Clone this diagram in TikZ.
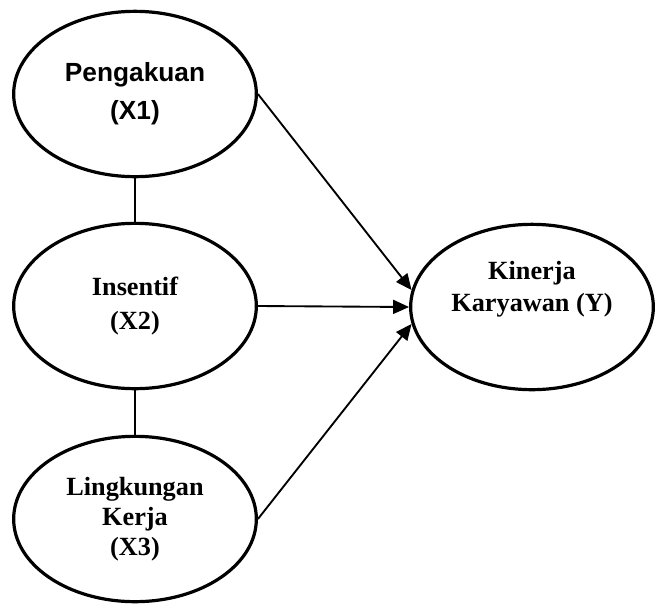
\documentclass[tikz,border=0pt]{standalone}
\usepackage{fontspec}
\setmainfont{Liberation Serif}
\setsansfont{Liberation Sans}
\usetikzlibrary{shapes.geometric,arrows.meta}

\begin{document}
\begin{tikzpicture}[
            x=0.75pt, y=-0.75pt,
            latent/.style={draw, ellipse, line width=2.4pt, inner sep=0pt,
                minimum width=182pt, minimum height=124pt, align=center,
                font=\bfseries\fontsize{19.7}{22.5}\selectfont},
            path/.style={line width=1.4pt, -{Triangle[length=12pt,width=10.5pt]}},
            link/.style={line width=1.4pt}
        ]
            \useasboundingbox (0,0) rectangle (656,604);
            \node[latent, font=\sffamily\bfseries\fontsize{19.7}{22.5}\selectfont]
                (x1) at (135,94) {Pengakuan\\[6pt](X1)};
            \node[latent] (x2) at (135,306) {Insentif\\[2.5pt](X2)};
            \node[latent] (x3) at (135,519) {Lingkungan\\Kerja\\(X3)};
            \node[latent] (y) at (532,307) {Kinerja\\[1.5pt]Karyawan (Y)\\[8pt]\mbox{}};
            \draw[link] (x1) -- (x2);
            \draw[link] (x2) -- (x3);
            \draw[path] (x1.east) -- (y.172);
            \draw[path] (x2.east) -- (y.west);
            \draw[path] (x3.east) -- (y.188);
        \end{tikzpicture}
\end{document}
